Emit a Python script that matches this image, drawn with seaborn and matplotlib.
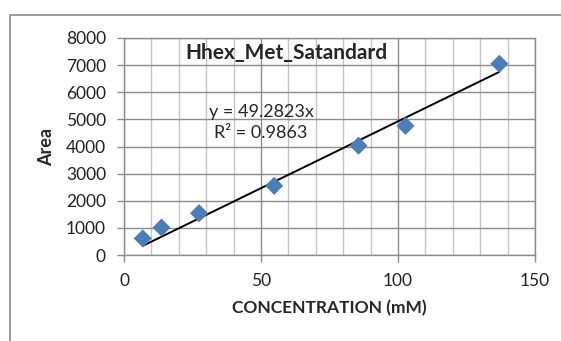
import numpy as np
import pandas as pd
import seaborn as sns
import matplotlib.pyplot as plt
from matplotlib.patches import Rectangle
from matplotlib.ticker import MultipleLocator

# data
concentration = [6.85, 13.7, 27.4, 54.8, 85.6, 102.75, 137.0]
area = [610, 1010, 1540, 2550, 4030, 4760, 7050]
slope = 49.2823
r_squared = 0.9863
x_ticks = [0, 50, 100, 150]
y_ticks = [0, 1000, 2000, 3000, 4000, 5000, 6000, 7000, 8000]

df = pd.DataFrame({'conc': concentration, 'area': area})

sns.set_style("white")
plt.rcParams['font.family'] = ['Lato', 'DejaVu Sans']

fig = plt.figure(figsize=(5.61, 3.41), dpi=100)
ax = fig.add_axes([124 / 561, 1 - 255 / 341, 411 / 561, 217 / 341])

# outer chart border (clipped at right/bottom like the original)
fig.patches.append(Rectangle((10 / 561, -0.1), 1.2, 1 - 15 / 341 + 0.1,
                             transform=fig.transFigure, fill=False,
                             edgecolor='#8a8a8a', linewidth=1.2, zorder=0))

# trendline through origin
xs = np.array([min(concentration), max(concentration)])
ax.plot(xs, slope * xs, color='black', linewidth=1.4, zorder=3)

sns.scatterplot(data=df, x='conc', y='area', marker='D', s=85,
                color='#4a7ebb', edgecolor='none', ax=ax, zorder=4)

ax.set_xlim(0, 150)
ax.set_ylim(0, 8000)
ax.set_xticks(x_ticks)
ax.set_yticks(y_ticks)
ax.xaxis.set_minor_locator(MultipleLocator(10))
ax.grid(which='minor', axis='x', color='#c4c4c4', linewidth=1.0)
ax.grid(which='major', axis='both', color='#8c8c8c', linewidth=1.0)
ax.set_axisbelow(True)

ax.tick_params(axis='both', which='major', direction='out', length=5,
               width=1.0, color='#8c8c8c', labelsize=12.5, labelcolor='#222222',
               bottom=True, left=True)
ax.tick_params(axis='y', pad=8)
ax.tick_params(axis='x', which='minor', length=0)
ax.tick_params(axis='x', pad=8)
for s in ax.spines.values():
    s.set_color('#8c8c8c')
    s.set_linewidth(1.0)

ax.set_xlabel('CONCENTRATION (mM)', fontsize=12.5, fontweight='bold', labelpad=8)
ax.set_ylabel('Area', fontsize=13, fontweight='bold', labelpad=8)
ax.text(0.395, 0.975, 'Hhex_Met_Satandard', transform=ax.transAxes,
        ha='center', va='top', fontsize=15, fontweight='bold')
ax.text(0.334, 0.66, f'y = {slope}x', transform=ax.transAxes,
        ha='center', va='center', fontsize=13)
ax.text(0.332, 0.56, f'R² = {r_squared}', transform=ax.transAxes,
        ha='center', va='center', fontsize=13)

plt.savefig('out.png', dpi=100)
